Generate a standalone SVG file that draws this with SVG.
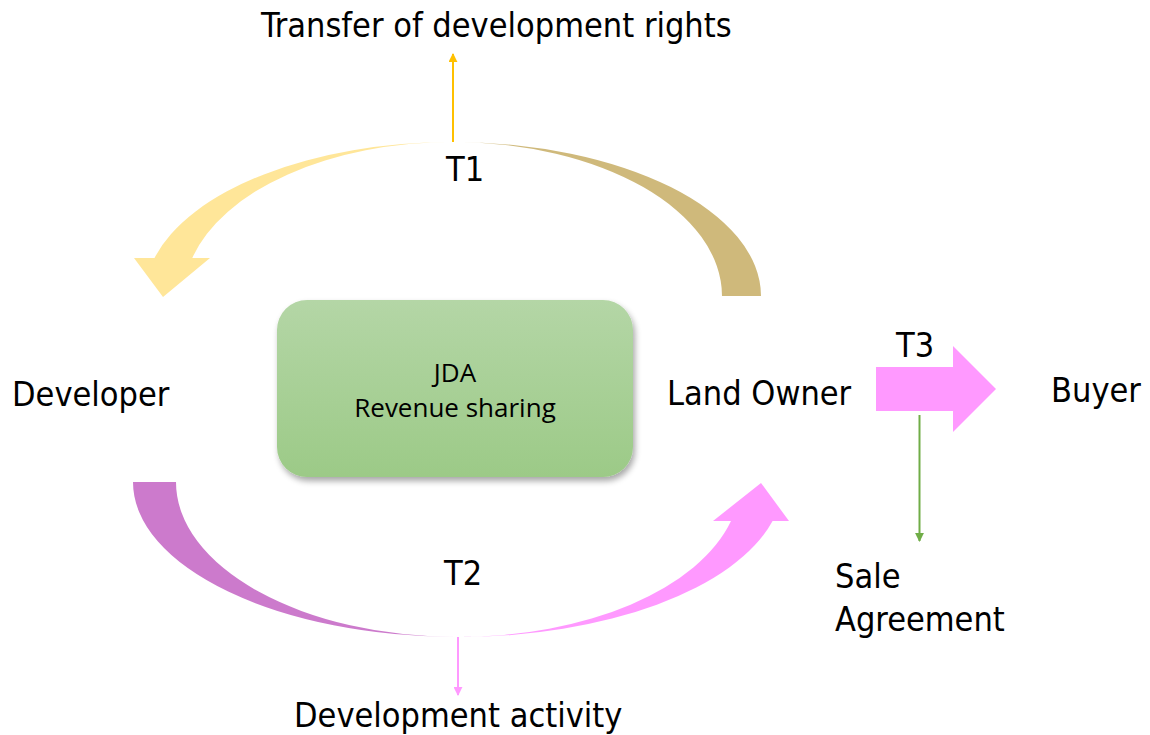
<svg xmlns="http://www.w3.org/2000/svg" width="1150" height="735" viewBox="0 0 1150 735">
  <style>
    .lbl { font-family: "DejaVu Sans Condensed", "DejaVu Sans", sans-serif; font-stretch: condensed; font-size: 34px; fill: #000; }
    .box-txt { font-family: "Open Sans", "Liberation Sans", sans-serif; font-size: 26px; fill: #000; text-anchor: middle; }
  </style>
  <defs>
    <linearGradient id="gT1" gradientUnits="userSpaceOnUse" x1="134" y1="0" x2="761" y2="0">
      <stop offset="0" stop-color="#FFE699"/>
      <stop offset="0.48" stop-color="#FFE699"/>
      <stop offset="0.54" stop-color="#CFB97B"/>
      <stop offset="1" stop-color="#CFB97B"/>
    </linearGradient>
    <linearGradient id="gT2" gradientUnits="userSpaceOnUse" x1="133" y1="0" x2="789" y2="0">
      <stop offset="0" stop-color="#CC7ACC"/>
      <stop offset="0.46" stop-color="#CC7ACC"/>
      <stop offset="0.54" stop-color="#FF99FF"/>
      <stop offset="1" stop-color="#FF99FF"/>
    </linearGradient>
    <linearGradient id="gBox" x1="0" y1="0" x2="0" y2="1">
      <stop offset="0" stop-color="#B4D6A6"/>
      <stop offset="1" stop-color="#9CCA87"/>
    </linearGradient>
    <filter id="shadow" x="-10%" y="-10%" width="125%" height="130%">
      <feGaussianBlur in="SourceAlpha" stdDeviation="3"/>
      <feOffset dx="2" dy="4" result="b"/>
      <feComponentTransfer><feFuncA type="linear" slope="0.35"/></feComponentTransfer>
      <feMerge><feMergeNode/><feMergeNode in="SourceGraphic"/></feMerge>
    </filter>
    <marker id="mYellow" viewBox="0 0 10 10" refX="9" refY="5" markerWidth="4.5" markerHeight="4.5" orient="auto" markerUnits="strokeWidth">
      <path d="M0,0 L10,5 L0,10 z" fill="#FFC000"/>
    </marker>
    <marker id="mPink" viewBox="0 0 10 10" refX="9" refY="5" markerWidth="4.5" markerHeight="4.5" orient="auto" markerUnits="strokeWidth">
      <path d="M0,0 L10,5 L0,10 z" fill="#FF99FF"/>
    </marker>
    <marker id="mGreen" viewBox="0 0 10 10" refX="9" refY="5" markerWidth="4.5" markerHeight="4.5" orient="auto" markerUnits="strokeWidth">
      <path d="M0,0 L10,5 L0,10 z" fill="#70AD47"/>
    </marker>
  </defs>

  <rect width="1150" height="735" fill="#FFFFFF"/>

  <!-- connectors -->
  <g id="connectors">
    <!-- T1: curved arrow from Land Owner over the top to Developer -->
    <path id="arc-t1" fill="url(#gT1)" d="M761,296 A308,154 0 0 0 453,142 A308,154 0 0 0 154.5,258 L134,258 L163,297 L210,258 L192.3,258 A269,154 0 0 1 453,142 A269,154 0 0 1 722,296 Z"/>
    <!-- T2: curved arrow from Developer under the bottom to Land Owner -->
    <path id="arc-t2" fill="url(#gT2)" d="M133,482 A325,155 0 0 0 458,637 A325,155 0 0 0 772.6,521 L789,521 L761,483 L713,521 L731,521 A282,155 0 0 1 458,637 A282,155 0 0 1 176,482 Z"/>
    <!-- T3: block arrow from Land Owner to Buyer -->
    <path id="arrow-t3" fill="#FF99FF" d="M876,367 L953,367 L953,346 L996,389 L953,432 L953,411 L876,411 Z"/>
    <!-- thin callout arrows -->
    <line x1="453" y1="142" x2="453" y2="54" stroke="#FFC000" stroke-width="2" marker-end="url(#mYellow)"/>
    <line x1="458" y1="637" x2="458" y2="695" stroke="#FF99FF" stroke-width="2" marker-end="url(#mPink)"/>
    <line x1="919.5" y1="415" x2="919.5" y2="541" stroke="#70AD47" stroke-width="2" marker-end="url(#mGreen)"/>
  </g>

  <g id="jda">
    <rect x="277" y="300" width="356" height="177" rx="30" ry="30" fill="url(#gBox)" filter="url(#shadow)"/>
    <text class="box-txt" x="455" y="382">JDA</text>
    <text class="box-txt" x="455" y="417">Revenue sharing</text>
  </g>

  <g id="developer"><text class="lbl" x="12" y="406">Developer</text></g>
  <g id="land-owner"><text class="lbl" x="667" y="405">Land Owner</text></g>
  <g id="buyer"><text class="lbl" x="1051" y="402">Buyer</text></g>

  <g id="t1-label"><text class="lbl" x="446" y="181">T1</text></g>
  <g id="t2-label"><text class="lbl" x="444" y="585">T2</text></g>
  <g id="t3-label"><text class="lbl" x="896" y="357">T3</text></g>

  <g id="transfer"><text class="lbl" x="261" y="37">Transfer of development rights</text></g>
  <g id="dev-activity"><text class="lbl" x="294" y="727">Development activity</text></g>
  <g id="sale-agreement">
    <text class="lbl" x="835" y="588">Sale</text>
    <text class="lbl" x="835" y="631">Agreement</text>
  </g>
</svg>
